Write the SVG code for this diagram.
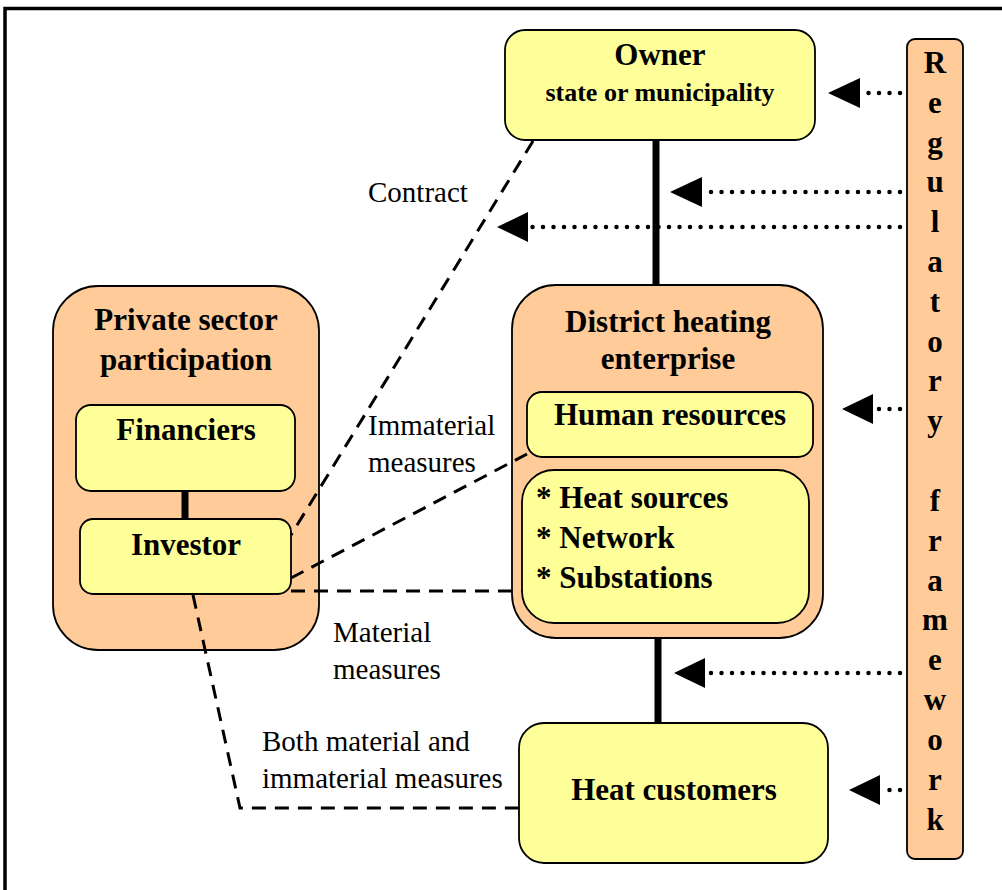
<svg xmlns="http://www.w3.org/2000/svg" width="1002" height="890" viewBox="0 0 1002 890">
<style>
.y{fill:#FFFF99;stroke:#000;stroke-width:1.8}
.o{fill:#FFCC99;stroke:#000;stroke-width:1.8}
text{font-family:'Liberation Serif','Times New Roman','DejaVu Serif',serif;fill:#000}
.b{font-weight:bold;font-size:31px}
.s{font-weight:bold;font-size:26px}
.r{font-weight:normal;font-size:29px}
.c{text-anchor:middle}
.thick{stroke:#000;stroke-width:7;fill:none}
.dash{stroke:#000;stroke-width:3;fill:none;stroke-dasharray:14 9}
.dot{stroke:#000;stroke-width:4.5;fill:none;stroke-dasharray:0 10.5;stroke-linecap:round}
.head{fill:#000}
</style>
<rect x="0" y="0" width="1002" height="890" fill="#fff"/>
<rect x="5" y="8.5" width="1010" height="900" fill="none" stroke="#000" stroke-width="3.5"/>

<g id="labels" font-family="Liberation Serif">
  <text class="r" x="368" y="202">Contract</text>
  <text class="r" x="368" y="435">Immaterial</text>
  <text class="r" x="368" y="472">measures</text>
  <text class="r" x="333" y="642">Material</text>
  <text class="r" x="333" y="679">measures</text>
  <text class="r" x="262" y="751">Both material and</text>
  <text class="r" x="262" y="788">immaterial measures</text>
</g>

<g id="owner">
  <rect class="y" x="505" y="30" width="310" height="110" rx="20"/>
  <text class="b c" x="660" y="65">Owner</text>
  <text class="s c" x="660" y="101">state or municipality</text>
</g>

<g id="regulatory">
  <rect class="o" x="907" y="39" width="56" height="820" rx="8"/>
  <text class="b c" x="935" y="73" font-size="29">R</text>
  <text class="b c" x="935" y="113" font-size="29">e</text>
  <text class="b c" x="935" y="153" font-size="29">g</text>
  <text class="b c" x="935" y="192" font-size="29">u</text>
  <text class="b c" x="935" y="232" font-size="29">l</text>
  <text class="b c" x="935" y="272" font-size="29">a</text>
  <text class="b c" x="935" y="312" font-size="29">t</text>
  <text class="b c" x="935" y="352" font-size="29">o</text>
  <text class="b c" x="935" y="391" font-size="29">r</text>
  <text class="b c" x="935" y="431" font-size="29">y</text>
  <text class="b c" x="935" y="511" font-size="29">f</text>
  <text class="b c" x="935" y="551" font-size="29">r</text>
  <text class="b c" x="935" y="591" font-size="29">a</text>
  <text class="b c" x="935" y="630" font-size="29">m</text>
  <text class="b c" x="935" y="670" font-size="29">e</text>
  <text class="b c" x="935" y="710" font-size="29">w</text>
  <text class="b c" x="935" y="750" font-size="29">o</text>
  <text class="b c" x="935" y="790" font-size="29">r</text>
  <text class="b c" x="935" y="830" font-size="29">k</text>
</g>

<g id="private">
  <rect class="o" x="53" y="286" width="266" height="364" rx="45"/>
  <text class="b c" x="186" y="330">Private sector</text>
  <text class="b c" x="186" y="370">participation</text>
</g>

<g id="financiers">
  <rect class="y" x="76" y="405" width="219" height="86" rx="15"/>
  <text class="b c" x="186" y="440">Financiers</text>
</g>

<g id="investor">
  <rect class="y" x="80" y="519" width="211" height="75" rx="13"/>
  <text class="b c" x="186" y="555">Investor</text>
</g>

<g id="district">
  <rect class="o" x="512" y="285" width="311" height="353" rx="44"/>
  <text class="b c" x="668" y="332">District heating</text>
  <text class="b c" x="668" y="369">enterprise</text>
</g>

<g id="human">
  <rect class="y" x="527" y="392" width="286" height="65" rx="15"/>
  <text class="b c" x="670" y="425">Human resources</text>
</g>

<g id="assets">
  <rect class="y" x="522" y="470" width="287" height="153" rx="32"/>
  <text class="b" x="536" y="508">* Heat sources</text>
  <text class="b" x="536" y="548">* Network</text>
  <text class="b" x="536" y="588">* Substations</text>
</g>

<g id="customers">
  <rect class="y" x="519" y="723" width="309" height="140" rx="25"/>
  <text class="b c" x="674" y="800">Heat customers</text>
</g>

<g id="connectors">
  <line class="thick" x1="656" y1="141" x2="656" y2="284"/>
  <line class="thick" x1="658" y1="639" x2="658" y2="722"/>
  <line class="thick" x1="185" y1="492" x2="185" y2="518"/>
  <line class="dash" x1="533" y1="141" x2="291" y2="535"/>
  <line class="dash" x1="291" y1="578" x2="527" y2="454"/>
  <line class="dash" x1="291" y1="591" x2="522" y2="591"/>
  <polyline class="dash" points="193,595 240,808 519,808"/>
  <line class="dot" x1="900" y1="93" x2="862" y2="93"/>
  <polygon class="head" points="828,93 860,78 860,108"/>
  <line class="dot" x1="900" y1="192" x2="703" y2="192"/>
  <polygon class="head" points="670,192 702,177 702,207"/>
  <line class="dot" x1="900" y1="227" x2="530" y2="227"/>
  <polygon class="head" points="497,227 528,212 528,242"/>
  <line class="dot" x1="900" y1="409" x2="876" y2="409"/>
  <polygon class="head" points="842,409 873,394 873,424"/>
  <line class="dot" x1="900" y1="673" x2="706" y2="673"/>
  <polygon class="head" points="674,673 705,658 705,688"/>
  <line class="dot" x1="900" y1="790" x2="882" y2="790"/>
  <polygon class="head" points="849,790 880,775 880,805"/>
</g>
</svg>
